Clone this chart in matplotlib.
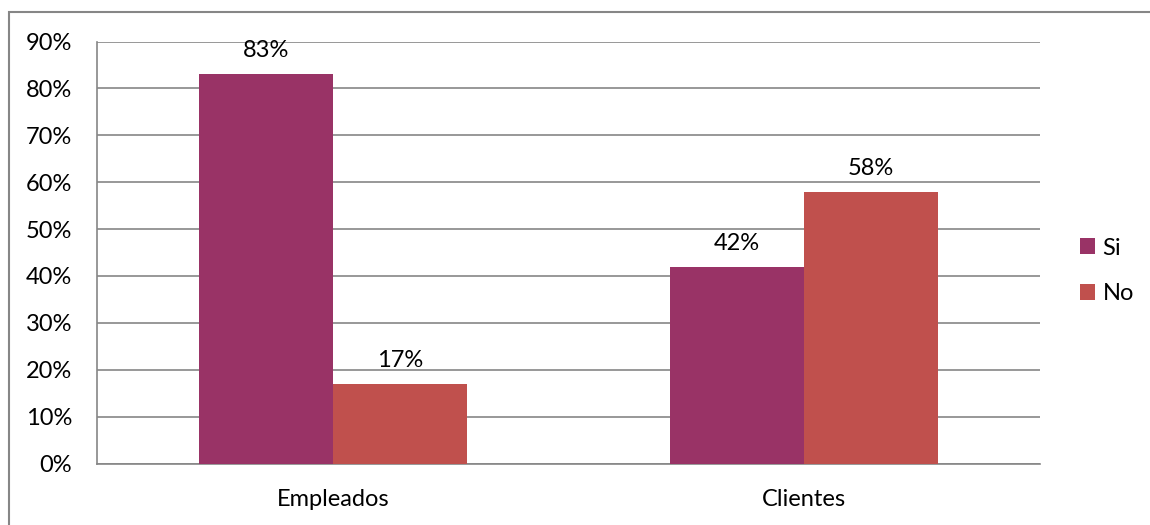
import numpy as np
import matplotlib.pyplot as plt
from matplotlib.patches import Rectangle

plt.rcParams['font.family'] = ['Lato', 'DejaVu Sans']

# Datos
categorias = ["Empleados", "Clientes"]
si = [83, 42]
no = [17, 58]
series = ["Si", "No"]
colores = ["#993366", "#C0504D"]
yticks = [0, 10, 20, 30, 40, 50, 60, 70, 80, 90]

gris = "#868686"
fs = 17

fig = plt.figure(figsize=(11.5, 5.25), dpi=100)
ax = fig.add_axes([97 / 1150, 1 - 463.5 / 525, (1040 - 97) / 1150, (463.5 - 41.5) / 525])

x = np.arange(len(categorias))
ancho = 0.284

barras_si = ax.bar(x - ancho / 2, si, ancho, color=colores[0], label=series[0], zorder=3)
barras_no = ax.bar(x + ancho / 2, no, ancho, color=colores[1], label=series[1], zorder=3)

# Etiquetas de valor
for barras, valores in [(barras_si, si), (barras_no, no)]:
    for b, v in zip(barras, valores):
        ax.annotate(f"{v}%", (b.get_x() + b.get_width() / 2, v),
                    xytext=(0, 13), textcoords="offset pixels",
                    ha="center", va="bottom", fontsize=fs)

ax.set_xlim(-0.5, 1.5)
ax.set_ylim(0, 90)
ax.set_yticks(yticks)
ax.set_yticklabels([f"{t}%" for t in yticks], fontsize=fs)
ax.set_xticks(x)
ax.set_xticklabels(categorias, fontsize=fs)
ax.tick_params(axis="both", length=0)
ax.tick_params(axis="y", pad=18)
ax.tick_params(axis="x", pad=18)

ax.grid(axis="y", color=gris, linewidth=1.2, zorder=0)
ax.set_axisbelow(True)
for lado in ["top", "right"]:
    ax.spines[lado].set_visible(False)
for lado in ["left", "bottom"]:
    ax.spines[lado].set_color(gris)
    ax.spines[lado].set_linewidth(1.2)

# Leyenda
fig.legend(loc="center left", bbox_to_anchor=(1080 / 1150, 1 - 271 / 525),
           frameon=False, fontsize=fs, borderpad=0, borderaxespad=0,
           handlelength=0.65, handleheight=0.65, handletextpad=0.3,
           labelspacing=1.05)

# Marco exterior
fig.patches.append(Rectangle((9 / 1150, -0.1), 1.2, 1 - 12 / 525 + 0.1,
                             transform=fig.transFigure, fill=False,
                             edgecolor=gris, linewidth=1.5))

plt.savefig("out.png", dpi=100)
plt.close()
